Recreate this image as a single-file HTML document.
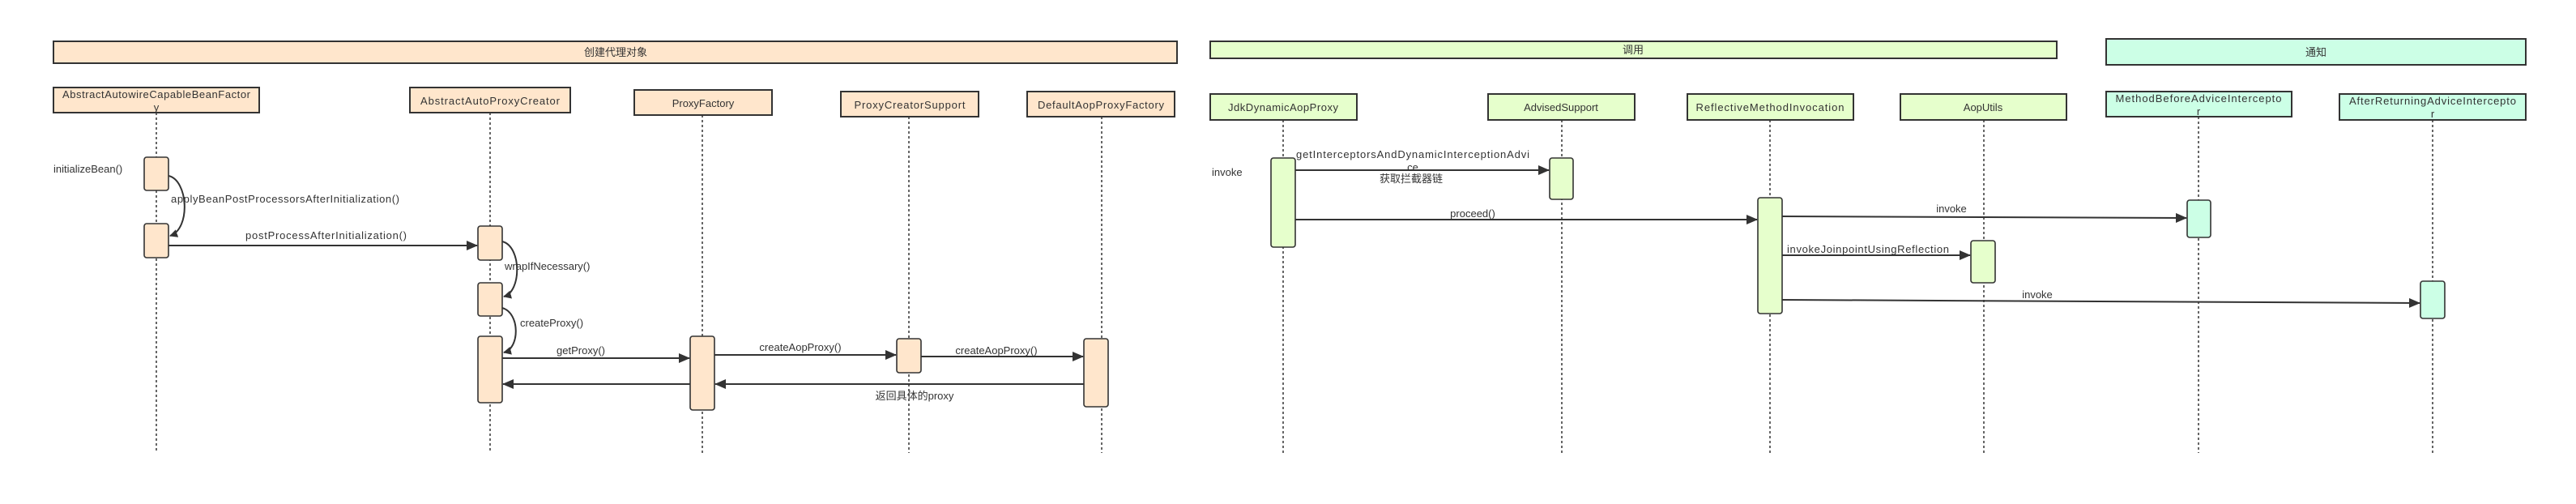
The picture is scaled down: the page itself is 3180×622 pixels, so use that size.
<!DOCTYPE html>
<html><head><meta charset="utf-8"><style>
html,body{margin:0;padding:0;background:#fff;}
svg{display:block;}
text{font-family:"Liberation Sans","Noto Sans CJK SC",sans-serif;font-size:13px;fill:#333;}
.box{stroke:#333;stroke-width:2;}
.act{stroke:#333;stroke-width:1.6;}
.ll{stroke:#333;stroke-width:1.5;stroke-dasharray:3,3;}
.ar{stroke:#333;stroke-width:2;fill:none;}
.pe{fill:#FFE6CC;} .gr{fill:#E6FFCC;} .mi{fill:#CCFFE6;}
</style></head><body>
<svg width="3180" height="622" viewBox="0 0 3180 622" xmlns="http://www.w3.org/2000/svg">
<defs>
<marker id="a" markerWidth="10" markerHeight="10" refX="9" refY="5" orient="auto" markerUnits="userSpaceOnUse">
<path d="M0,0 L10,5 L0,10 z" fill="#333"/></marker>
<marker id="b" markerWidth="14" markerHeight="12" refX="13" refY="6" orient="auto" markerUnits="userSpaceOnUse">
<path d="M0,0 L14,6 L0,12 z" fill="#333"/></marker>
</defs>

<!-- banners -->
<rect class="box pe" x="66" y="51" width="1387" height="27"/>
<text x="760" y="69" text-anchor="middle">创建代理对象</text>
<rect class="box gr" x="1494" y="51" width="1045" height="21"/>
<text x="2016" y="66" text-anchor="middle">调用</text>
<rect class="box mi" x="2600" y="48" width="518" height="32"/>
<text x="2859" y="69" text-anchor="middle">通知</text>

<!-- lifelines -->
<line class="ll" x1="193" y1="139" x2="193" y2="559"/>
<line class="ll" x1="605" y1="139" x2="605" y2="559"/>
<line class="ll" x1="867" y1="142" x2="867" y2="559"/>
<line class="ll" x1="1122" y1="144" x2="1122" y2="559"/>
<line class="ll" x1="1360" y1="144" x2="1360" y2="559"/>
<line class="ll" x1="1584" y1="148" x2="1584" y2="562"/>
<line class="ll" x1="1928" y1="148" x2="1928" y2="562"/>
<line class="ll" x1="2185" y1="148" x2="2185" y2="562"/>
<line class="ll" x1="2449" y1="148" x2="2449" y2="562"/>
<line class="ll" x1="2714" y1="144" x2="2714" y2="559"/>
<line class="ll" x1="3003" y1="148" x2="3003" y2="562"/>

<!-- participant boxes -->
<rect class="box pe" x="66" y="108" width="254" height="31"/>
<text x="193" y="121" text-anchor="middle" textLength="232">AbstractAutowireCapableBeanFactor</text>
<text x="193" y="137" text-anchor="middle">y</text>
<rect class="box pe" x="506" y="108" width="198" height="31"/>
<text x="605" y="129" text-anchor="middle" textLength="172">AbstractAutoProxyCreator</text>
<rect class="box pe" x="783" y="111" width="170" height="31"/>
<text x="868" y="132" text-anchor="middle">ProxyFactory</text>
<rect class="box pe" x="1038" y="113" width="170" height="31"/>
<text x="1123" y="134" text-anchor="middle" textLength="137">ProxyCreatorSupport</text>
<rect class="box pe" x="1268" y="113" width="182" height="31"/>
<text x="1359" y="134" text-anchor="middle" textLength="156">DefaultAopProxyFactory</text>

<rect class="box gr" x="1494" y="116" width="181" height="32"/>
<text x="1584" y="137" text-anchor="middle" textLength="136">JdkDynamicAopProxy</text>
<rect class="box gr" x="1837" y="116" width="181" height="32"/>
<text x="1927" y="137" text-anchor="middle">AdvisedSupport</text>
<rect class="box gr" x="2083" y="116" width="205" height="32"/>
<text x="2185" y="137" text-anchor="middle" textLength="183">ReflectiveMethodInvocation</text>
<rect class="box gr" x="2346" y="116" width="205" height="32"/>
<text x="2448" y="137" text-anchor="middle">AopUtils</text>
<rect class="box mi" x="2600" y="113" width="229" height="31"/>
<text x="2714" y="126" text-anchor="middle" textLength="205">MethodBeforeAdviceIntercepto</text>
<text x="2714" y="142" text-anchor="middle">r</text>
<rect class="box mi" x="2888" y="116" width="230" height="32"/>
<text x="3003" y="129" text-anchor="middle" textLength="206">AfterReturningAdviceIntercepto</text>
<text x="3003" y="145" text-anchor="middle">r</text>

<!-- activations -->
<rect class="act pe" x="178" y="194" width="30" height="41" rx="3"/>
<rect class="act pe" x="178" y="276" width="30" height="42" rx="3"/>
<rect class="act pe" x="590" y="279" width="30" height="42" rx="3"/>
<rect class="act pe" x="590" y="349" width="30" height="41" rx="3"/>
<rect class="act pe" x="590" y="415" width="30" height="82" rx="3"/>
<rect class="act pe" x="852" y="415" width="30" height="91" rx="3"/>
<rect class="act pe" x="1107" y="418" width="30" height="42" rx="3"/>
<rect class="act pe" x="1338" y="418" width="30" height="84" rx="3"/>
<rect class="act gr" x="1569" y="195" width="30" height="110" rx="3"/>
<rect class="act gr" x="1913" y="195" width="29" height="51" rx="3"/>
<rect class="act gr" x="2170" y="244" width="30" height="143" rx="3"/>
<rect class="act mi" x="2700" y="247" width="29" height="46" rx="3"/>
<rect class="act gr" x="2433" y="297" width="30" height="52" rx="3"/>
<rect class="act mi" x="2988" y="347" width="30" height="46" rx="3"/>

<!-- messages left -->
<text x="66" y="213">initializeBean()</text>
<path class="ar" d="M208,217 C232,222 236,282 210,291" marker-end="url(#a)"/>
<text x="211" y="250" textLength="282">applyBeanPostProcessorsAfterInitialization()</text>
<line class="ar" x1="208" y1="303" x2="589" y2="303" marker-end="url(#b)"/>
<text x="303" y="295" textLength="199">postProcessAfterInitialization()</text>
<path class="ar" d="M620,298 C644,304 644,360 622,366" marker-end="url(#a)"/>
<text x="623" y="333">wrapIfNecessary()</text>
<path class="ar" d="M620,380 C642,386 642,430 622,435" marker-end="url(#a)"/>
<text x="642" y="403">createProxy()</text>
<line class="ar" x1="620" y1="442" x2="851" y2="442" marker-end="url(#b)"/>
<text x="717" y="437" text-anchor="middle">getProxy()</text>
<line class="ar" x1="852" y1="474" x2="621" y2="474" marker-end="url(#b)"/>
<line class="ar" x1="882" y1="438" x2="1106" y2="438" marker-end="url(#b)"/>
<text x="988" y="433" text-anchor="middle">createAopProxy()</text>
<line class="ar" x1="1137" y1="440" x2="1337" y2="440" marker-end="url(#b)"/>
<text x="1230" y="437" text-anchor="middle">createAopProxy()</text>
<line class="ar" x1="1338" y1="474" x2="883" y2="474" marker-end="url(#b)"/>
<text x="1129" y="493" text-anchor="middle">返回具体的proxy</text>

<!-- messages invoke -->
<text x="1496" y="217">invoke</text>
<line class="ar" x1="1599" y1="210" x2="1912" y2="210" marker-end="url(#b)"/>
<text x="1600" y="195" textLength="288">getInterceptorsAndDynamicInterceptionAdvi</text>
<text x="1744" y="211" text-anchor="middle">ce</text>
<text x="1742" y="225" text-anchor="middle">获取拦截器链</text>
<line class="ar" x1="1599" y1="271" x2="2169" y2="271" marker-end="url(#b)"/>
<text x="1818" y="268" text-anchor="middle">proceed()</text>
<line class="ar" x1="2200" y1="267" x2="2699" y2="269" marker-end="url(#b)"/>
<text x="2409" y="262" text-anchor="middle">invoke</text>
<line class="ar" x1="2200" y1="315" x2="2432" y2="315" marker-end="url(#b)"/>
<text x="2206" y="312" textLength="200">invokeJoinpointUsingReflection</text>
<line class="ar" x1="2200" y1="370" x2="2987" y2="374" marker-end="url(#b)"/>
<text x="2515" y="368" text-anchor="middle">invoke</text>
</svg>
</body></html>
